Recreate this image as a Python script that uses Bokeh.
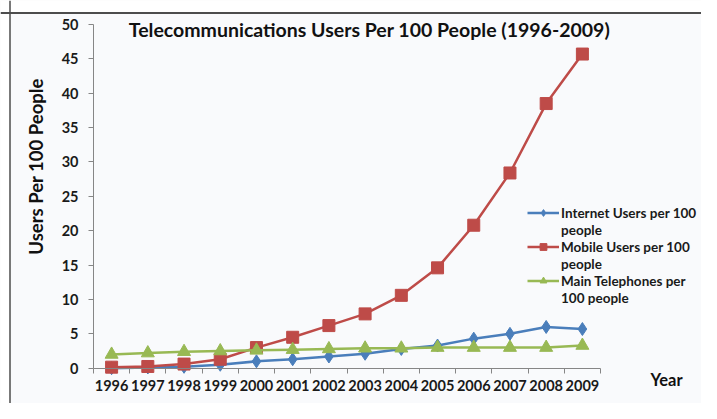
import math
from bokeh.plotting import figure
from bokeh.models import Range1d, FixedTicker, Label, Legend, LegendItem, Span, BoxAnnotation
from bokeh.embed import file_html
from bokeh.resources import INLINE

years = [1996, 1997, 1998, 1999, 2000, 2001, 2002, 2003, 2004, 2005, 2006, 2007, 2008, 2009]
internet = [0.0, 0.1, 0.2, 0.5, 1.0, 1.3, 1.7, 2.1, 2.8, 3.3, 4.3, 5.0, 6.0, 5.7]
mobile = [0.15, 0.25, 0.6, 1.3, 3.0, 4.5, 6.2, 7.9, 10.6, 14.6, 20.8, 28.4, 38.5, 45.7]
phones = [2.0, 2.2, 2.4, 2.5, 2.6, 2.7, 2.8, 2.9, 2.9, 3.0, 3.0, 3.0, 3.0, 3.3]
y_ticks = [0, 5, 10, 15, 20, 25, 30, 35, 40, 45, 50]
series_names = [("Internet Users per 100", "people"),
                ("Mobile Users per 100", "people"),
                ("Main Telephones per", "100 people")]

BG = "#f9fafc"
FONT = "Lato"
W, H = 701, 403
# pixel geometry of the plotting area inside the canvas
PX_LEFT, PX_RIGHT, PX_TOP, PX_ZERO = 93, 600, 24, 367.7
x_lo, x_hi = years[0] - 0.5, years[-1] + 0.5
y_lo, y_hi = 0, 50
sx = (PX_RIGHT - PX_LEFT) / (x_hi - x_lo)
sy = (PX_ZERO - PX_TOP) / (y_hi - y_lo)

def dx(px):
    return x_lo + (px - PX_LEFT) / sx

def dy(py):
    return y_lo + (PX_ZERO - py) / sy

p = figure(width=W, height=H, output_backend="svg", toolbar_location=None,
           x_range=Range1d(dx(0), dx(W)), y_range=Range1d(dy(H), dy(0)),
           min_border=0, background_fill_color=BG, border_fill_color="white",
           outline_line_color=None)
p.grid.visible = False

# outer chart frame (white outside, dark border on top and left)
p.add_layout(BoxAnnotation(bottom=dy(12.5), fill_color="white", fill_alpha=1, line_color=None))
p.add_layout(BoxAnnotation(right=dx(9.5), fill_color="white", fill_alpha=1, line_color=None))
p.add_layout(Span(location=dy(12.5), dimension="width", line_color="#4d4d4d", line_width=2))
p.add_layout(Span(location=dx(9.5), dimension="height", line_color="#4d4d4d", line_width=1.5))

xa = p.xaxis[0]
xa.fixed_location = y_lo
xa.bounds = (x_lo, x_hi)
xa.ticker = FixedTicker(ticks=years, minor_ticks=[y - 0.5 for y in years] + [x_hi])
xa.major_tick_line_color = None
xa.minor_tick_line_color = "#868686"
xa.minor_tick_out = 5
xa.minor_tick_in = 0
xa.axis_line_color = "#868686"
xa.major_label_standoff = 6
xa.major_label_text_font = FONT
xa.major_label_text_font_size = "14.5px"
xa.major_label_text_font_style = "bold"
xa.major_label_text_color = "#1a1a1a"

ya = p.yaxis[0]
ya.fixed_location = x_lo
ya.bounds = (y_lo, y_hi)
ya.ticker = FixedTicker(ticks=y_ticks, minor_ticks=[])
ya.major_tick_line_color = "#868686"
ya.major_tick_out = 5
ya.major_tick_in = 0
ya.axis_line_color = "#868686"
ya.major_label_standoff = 10
ya.major_label_text_font = FONT
ya.major_label_text_font_size = "14.5px"
ya.major_label_text_font_style = "bold"
ya.major_label_text_color = "#1a1a1a"

colors = ["#4a7ebb", "#be4b48", "#98b954"]
markers = ["diamond", "square", "triangle"]
sizes = [13, 12, 13]
data = [internet, mobile, phones]
items = []
for (line1, line2), vals, c, m, s in zip(series_names, data, colors, markers, sizes):
    rl = p.line(years, vals, line_color=c, line_width=2.5)
    rs = p.scatter(years, vals, marker=m, size=s, fill_color=c, line_color=c)
    # transparent twin so that the wrapped second line of the label has no glyph
    ghost = p.line(years, vals, line_alpha=0)
    items.append(LegendItem(label=line1, renderers=[rl, rs]))
    items.append(LegendItem(label=line2, renderers=[ghost]))

legend = Legend(items=items, location=(527, H - 306), border_line_color=None,
                background_fill_alpha=0, padding=0, margin=0, spacing=0,
                glyph_width=32, glyph_height=17, label_height=17, label_standoff=2,
                label_text_font=FONT, label_text_font_size="13.5px",
                label_text_font_style="bold", label_text_color="#1a1a1a")
p.add_layout(legend, "center")

p.add_layout(Label(x=dx(369), y=dy(29), text="Telecommunications Users Per 100 People (1996-2009)",
                   text_align="center", text_baseline="middle", text_font=FONT,
                   text_font_size="19.5px", text_font_style="bold", text_color="#111111"))
p.add_layout(Label(x=dx(666), y=dy(379), text="Year", text_align="center", text_baseline="middle",
                   text_font=FONT, text_font_size="16.5px", text_font_style="bold", text_color="#111111"))
p.add_layout(Label(x=dx(35), y=dy(166), text="Users Per 100 People", angle=math.pi / 2,
                   text_align="center", text_baseline="middle", text_font=FONT,
                   text_font_size="18.5px", text_font_style="bold", text_color="#111111"))

open("out.html", "w").write(file_html(p, INLINE))
